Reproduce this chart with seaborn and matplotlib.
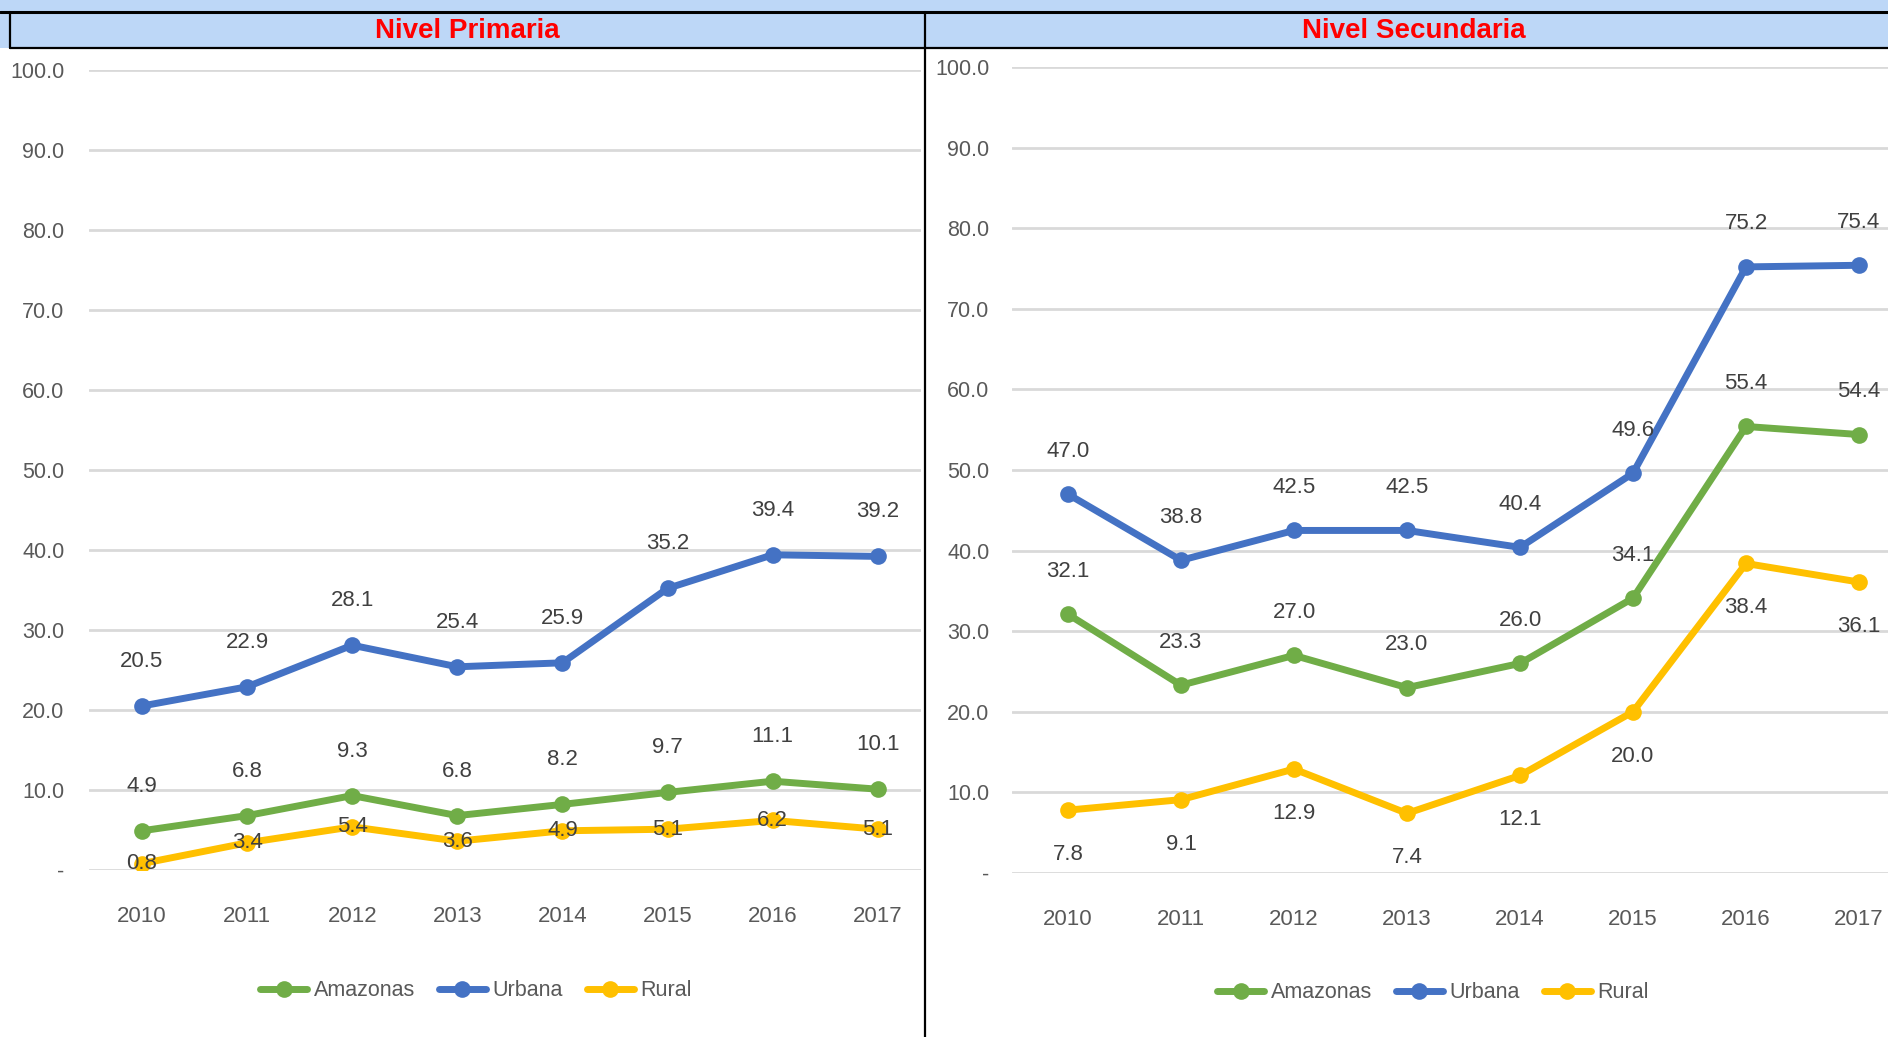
import seaborn as sns
import pandas as pd
import matplotlib.pyplot as plt
from matplotlib.lines import Line2D
from matplotlib.patches import Rectangle

years = ['2010', '2011', '2012', '2013', '2014', '2015', '2016', '2017']
series = ['Amazonas', 'Urbana', 'Rural']

prim_amazonas = [4.9, 6.8, 9.3, 6.8, 8.2, 9.7, 11.1, 10.1]
prim_urbana = [20.5, 22.9, 28.1, 25.4, 25.9, 35.2, 39.4, 39.2]
prim_rural = [0.8, 3.4, 5.4, 3.6, 4.9, 5.1, 6.2, 5.1]

sec_amazonas = [32.1, 23.3, 27.0, 23.0, 26.0, 34.1, 55.4, 54.4]
sec_urbana = [47.0, 38.8, 42.5, 42.5, 40.4, 49.6, 75.2, 75.4]
sec_rural = [7.8, 9.1, 12.9, 7.4, 12.1, 20.0, 38.4, 36.1]

yticks = [0, 10, 20, 30, 40, 50, 60, 70, 80, 90, 100]
ytick_labels = ['-', '10.0', '20.0', '30.0', '40.0', '50.0', '60.0', '70.0', '80.0', '90.0', '100.0']

colors = {'Amazonas': '#70AD47', 'Urbana': '#4472C4', 'Rural': '#FFC000'}
txt_gray = '#595959'

sns.set_style('white')
plt.rcParams['font.family'] = ['Liberation Sans', 'DejaVu Sans']


def to_long(amaz, urb, rur):
    rows = []
    for name, vals in zip(series, [amaz, urb, rur]):
        for y, v in zip(years, vals):
            rows.append({'year': y, 'serie': name, 'value': v})
    return pd.DataFrame(rows)


df_prim = to_long(prim_amazonas, prim_urbana, prim_rural)
df_sec = to_long(sec_amazonas, sec_urbana, sec_rural)

fig = plt.figure(figsize=(18.88, 10.37), dpi=100)
W, H = 1888, 1037

# header band
fig.patches.append(Rectangle((0, 1 - 48 / H), 1, 48 / H, transform=fig.transFigure,
                             facecolor='#BDD7F7', edgecolor='none', zorder=0))
fig.add_artist(Line2D([0, 1], [1 - 12 / H, 1 - 12 / H], color='black', lw=2.2, transform=fig.transFigure))
fig.add_artist(Line2D([10 / W, 1], [1 - 48 / H, 1 - 48 / H], color='black', lw=1.6, transform=fig.transFigure))
fig.add_artist(Line2D([10 / W, 10 / W], [1 - 12 / H, 1 - 48 / H], color='black', lw=1.6, transform=fig.transFigure))
fig.add_artist(Line2D([925 / W, 925 / W], [1 - 12 / H, 0], color='black', lw=1.6, transform=fig.transFigure))

fig.text(467 / W, 1 - 31 / H, 'Nivel Primaria', color='#FF0000', fontsize=20, fontweight='bold',
         ha='center', va='center')
fig.text(1414 / W, 1 - 31 / H, 'Nivel Secundaria', color='#FF0000', fontsize=20, fontweight='bold',
         ha='center', va='center')

ax1 = fig.add_axes([89.4 / W, 167 / H, 831.5 / W, 800 / H])
ax2 = fig.add_axes([1011.5 / W, 164 / H, 904 / W, 806 / H])


def draw(ax, df, xmax, offsets, ypad):
    sns.lineplot(data=df, x='year', y='value', hue='serie', palette=colors, hue_order=series,
                 marker='o', markersize=12, markeredgewidth=0, linewidth=5, ax=ax,
                 legend=False, sort=False)
    ax.set_xlim(-0.5, xmax)
    ax.set_ylim(0, 100)
    ax.set_yticks(yticks)
    ax.set_yticklabels(ytick_labels)
    ax.grid(axis='y', color='#D9D9D9', lw=2)
    ax.set_axisbelow(True)
    for s in ax.spines.values():
        s.set_visible(False)
    ax.tick_params(axis='y', length=0, pad=ypad, labelsize=15.5, labelcolor=txt_gray)
    ax.tick_params(axis='x', length=0, pad=26, labelsize=16, labelcolor=txt_gray)
    ax.set_xlabel('')
    ax.set_ylabel('')
    for name in series:
        vals = df[df['serie'] == name]['value'].tolist()
        for i, v in enumerate(vals):
            ax.annotate(f'{v:.1f}', (i, v), xytext=(0, offsets[name]), textcoords='offset points',
                        ha='center', va='center', fontsize=16, color='#404040', zorder=5)


draw(ax1, df_prim, 7.41, {'Amazonas': 32, 'Urbana': 32, 'Rural': 0}, 18)
draw(ax2, df_sec, 7.5, {'Amazonas': 31, 'Urbana': 31, 'Rural': -32}, 16)

handles = [Line2D([], [], color=colors[n], lw=5, marker='o', markersize=12, markeredgewidth=0)
           for n in series]
for cx, cy in [(476, 991), (1433, 993)]:
    fig.legend(handles, series, loc='center', bbox_to_anchor=(cx / W, 1 - cy / H), ncol=3,
               frameon=False, fontsize=15.5, labelcolor=txt_gray, handlelength=2.2,
               handletextpad=0.3, columnspacing=1.1)

fig.savefig('out.png', dpi=100)
